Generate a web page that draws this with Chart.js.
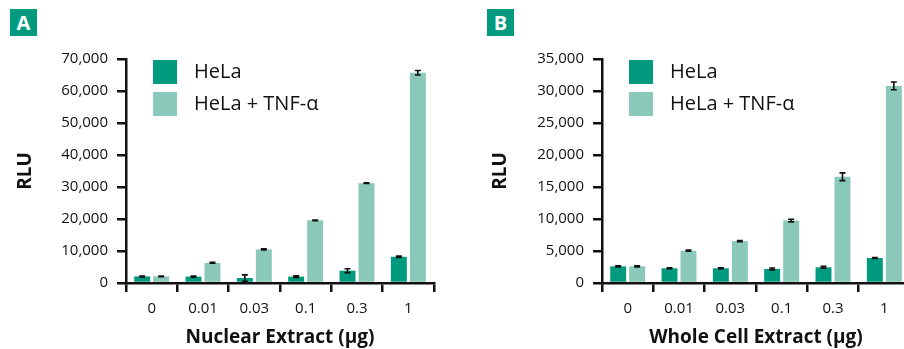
<!DOCTYPE html>
<html>
<head>
<meta charset="utf-8">
<script src="https://cdn.jsdelivr.net/npm/chart.js@4"></script>
<style>
  body { margin: 0; width: 904px; height: 349px; overflow: hidden; background: #fff; position: relative; }
  .panel { position: absolute; top: 0; }
  .tag { position: absolute; top: 9px; width: 27px; height: 27px; background: #009b7e; color: #fff;
         font: bold 20px "Open Sans", sans-serif; line-height: 27px; text-align: center; }
</style>
</head>
<body>
<div class="panel" style="left:0"><canvas id="chart-a" width="452" height="349"></canvas></div>
<div class="panel" style="left:452px"><canvas id="chart-b" width="470" height="349"></canvas></div>
<div class="tag" style="left:10px">A</div>
<div class="tag" style="left:487px">B</div>
<script>
// doses (µg) on the x axis
const doses = ['0', '0.01', '0.03', '0.1', '0.3', '1'];
const seriesNames = ['HeLa', 'HeLa + TNF-α'];

// panel A: nuclear extract
const nuclearHeLa = [2050, 2000, 1550, 2000, 3850, 8200];
const nuclearHeLaErr = [150, 200, 1000, 250, 600, 250];
const nuclearTnf = [2050, 6300, 10500, 19600, 31200, 65700];
const nuclearTnfErr = [100, 150, 150, 100, 100, 700];

// panel B: whole cell extract
const wholeHeLa = [2600, 2300, 2300, 2200, 2450, 3900];
const wholeHeLaErr = [100, 80, 80, 150, 150, 80];
const wholeTnf = [2600, 5050, 6550, 9750, 16600, 30800];
const wholeTnfErr = [80, 80, 80, 200, 600, 600];

const darkTeal = '#009b7e';
const lightTeal = '#8ac8ba';
const fontFamily = '"Open Sans", sans-serif';

// error bars drawn on top of the bars
const errorBars = {
  id: 'errorBars',
  afterDatasetsDraw(chart) {
    const ctx = chart.ctx;
    const y = chart.scales.y;
    ctx.save();
    ctx.strokeStyle = '#111';
    ctx.lineWidth = 1.6;
    chart.data.datasets.forEach((ds, di) => {
      chart.getDatasetMeta(di).data.forEach((bar, i) => {
        const v = ds.data[i], e = ds.errors[i];
        const top = y.getPixelForValue(v + e), bot = y.getPixelForValue(v - e);
        ctx.beginPath();
        ctx.moveTo(bar.x, top); ctx.lineTo(bar.x, bot);
        ctx.moveTo(bar.x - 3, top); ctx.lineTo(bar.x + 3, top);
        ctx.moveTo(bar.x - 3, bot); ctx.lineTo(bar.x + 3, bot);
        ctx.stroke();
      });
    });
    ctx.restore();
  }
};

// legend inside the plot area, top left
const insideLegend = {
  id: 'insideLegend',
  afterDraw(chart) {
    const ctx = chart.ctx;
    const x0 = chart.chartArea.left + 27;
    ctx.save();
    ctx.font = '20px ' + fontFamily;
    ctx.textBaseline = 'middle';
    chart.data.datasets.forEach((ds, i) => {
      const yTop = 60 + i * 32;
      ctx.fillStyle = ds.backgroundColor;
      ctx.fillRect(x0, yTop, 24, 24);
      ctx.fillStyle = '#111';
      ctx.fillText(ds.label, x0 + 41, yTop + 12);
    });
    ctx.restore();
  }
};

function makeChart(id, hela, helaErr, tnf, tnfErr, yMax, step, xTitle, padLeft, padRight) {
  const yWidth = (id === 'chart-a' ? 126 : 150) - padLeft;
  return new Chart(document.getElementById(id), {
    type: 'bar',
    data: {
      labels: doses,
      datasets: [
        { label: seriesNames[0], data: hela, errors: helaErr, backgroundColor: darkTeal },
        { label: seriesNames[1], data: tnf, errors: tnfErr, backgroundColor: lightTeal }
      ]
    },
    options: {
      responsive: false,
      animation: false,
      events: [],
      categoryPercentage: 0.74,
      barPercentage: 0.84,
      layout: { padding: { top: 59, left: padLeft, right: padRight, bottom: 0 } },
      plugins: { legend: { display: false }, tooltip: { enabled: false } },
      scales: {
        x: {
          offset: true,
          afterFit: s => { s.height = 66; },
          grid: { offset: true, drawOnChartArea: false, tickLength: 9, tickColor: '#111', lineWidth: 2.5 },
          border: { color: '#111', width: 2.5 },
          ticks: { color: '#111', padding: 8, font: { family: fontFamily, size: 15 } },
          title: { display: true, text: xTitle, color: '#111', padding: 0,
                   font: { family: fontFamily, size: 19, weight: 'bold' } }
        },
        y: {
          min: 0,
          max: yMax,
          afterFit: s => { s.width = yWidth; },
          grid: { drawOnChartArea: false, tickLength: 9, tickColor: '#111', lineWidth: 2.5 },
          border: { color: '#111', width: 2.5 },
          ticks: { stepSize: step, color: '#111', padding: 9, font: { family: fontFamily, size: 15 },
                   callback: v => v.toLocaleString('en-US') },
          title: { display: true, text: 'RLU', color: '#111', padding: 0,
                   font: { family: fontFamily, size: 19, weight: 'bold' } }
        }
      }
    },
    plugins: [errorBars, insideLegend]
  });
}

makeChart('chart-a', nuclearHeLa, nuclearHeLaErr, nuclearTnf, nuclearTnfErr, 70000, 10000,
  'Nuclear Extract (μg)', 14, 18);
makeChart('chart-b', wholeHeLa, wholeHeLaErr, wholeTnf, wholeTnfErr, 35000, 5000,
  'Whole Cell Extract (μg)', 37, 12);
</script>
</body>
</html>
